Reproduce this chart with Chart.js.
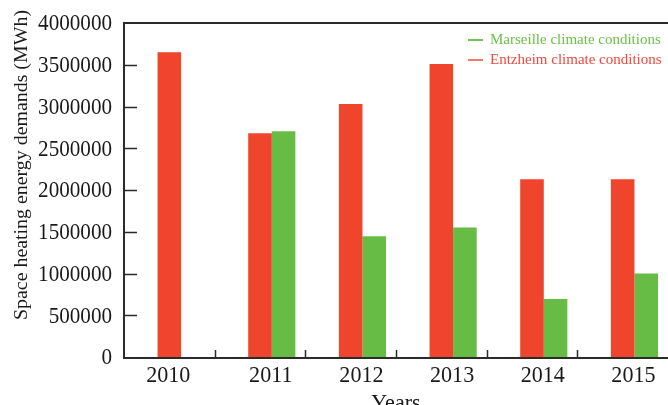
<!DOCTYPE html>
<html>
<head>
<meta charset="utf-8">
<script src="https://cdn.jsdelivr.net/npm/chart.js@4.4.1/dist/chart.umd.min.js"></script>
<style>
  html, body { margin: 0; padding: 0; background: #fff; }
  #wrap { width: 668px; height: 405px; position: relative; }
</style>
</head>
<body>
<div id="wrap"><canvas id="heatChart"></canvas></div>
<script>
const years = ['2010', '2011', '2012', '2013', '2014', '2015'];
const entzheim = [3650000, 2680000, 3030000, 3510000, 2130000, 2130000];
const marseille = [null, 2705000, 1445000, 1550000, 695000, 1000000];
const yTicks = [0, 500000, 1000000, 1500000, 2000000, 2500000, 3000000, 3500000, 4000000];

const RED = '#ee452c';
const GREEN = '#67bc45';
const AXIS = '#2b2b2b';
const TEXT = '#1a1a1a';
const SERIF = '"Liberation Serif", "DejaVu Serif", serif';

// draws text squeezed horizontally, like the condensed serif of the original
function squeezed(c, text, x, y, sx) {
    c.save();
    c.translate(x, y);
    c.scale(sx, 1);
    c.fillText(text, 0, 0);
    c.restore();
}

// frame, inner tick marks, tick labels, titles and legend
const framePlugin = {
    id: 'frame',
    afterDraw(chart) {
        const c = chart.ctx;
        const a = chart.chartArea;
        const xs = chart.scales.x;
        const ys = chart.scales.y;
        c.save();
        c.strokeStyle = AXIS;
        c.lineWidth = 2;
        c.beginPath();
        c.moveTo(a.left, a.top);
        c.lineTo(a.right + 2, a.top);
        c.moveTo(a.left, a.top - 1);
        c.lineTo(a.left, a.bottom + 1);
        c.lineTo(a.right + 2, a.bottom + 1);
        c.stroke();

        // y tick marks pointing inward
        c.lineWidth = 1.5;
        c.beginPath();
        yTicks.forEach(v => {
            if (v === 0 || v === 4000000) return;
            const y = Math.round(ys.getPixelForValue(v)) + 0.5;
            c.moveTo(a.left, y);
            c.lineTo(a.left + 13, y);
        });
        // x tick marks between categories
        for (let i = 0; i < years.length - 1; i++) {
            const x = Math.round((xs.getPixelForValue(i) + xs.getPixelForValue(i + 1)) / 2) + 0.5;
            c.moveTo(x, a.bottom);
            c.lineTo(x, a.bottom - 7);
        }
        c.stroke();

        // y tick labels
        c.fillStyle = TEXT;
        c.font = '24px ' + SERIF;
        c.textAlign = 'right';
        c.textBaseline = 'middle';
        yTicks.forEach(v => {
            squeezed(c, String(v), 112, ys.getPixelForValue(v) + 1, 0.88);
        });

        // x tick labels, centred under the bars that exist for that year
        c.font = '23px ' + SERIF;
        c.textAlign = 'center';
        c.textBaseline = 'middle';
        const metaR = chart.getDatasetMeta(1);
        const metaG = chart.getDatasetMeta(2);
        years.forEach((yr, i) => {
            const xsBars = [metaR.data[i].x];
            if (marseille[i] !== null) xsBars.push(metaG.data[i].x);
            const cx = xsBars.reduce((s, v) => s + v, 0) / xsBars.length;
            squeezed(c, yr, cx - 1, a.bottom + 19, 0.96);
        });

        // axis titles
        c.textBaseline = 'alphabetic';
        squeezed(c, 'Years', (a.left + a.right) / 2, 410, 0.96);

        c.font = '18px ' + SERIF;
        const title = 'Space heating energy demands (MWh)';
        const w = c.measureText(title).width;
        c.save();
        c.translate(27, 165);
        c.rotate(-Math.PI / 2);
        c.scale(310 / w, 1);
        c.textAlign = 'center';
        c.fillText(title, 0, 0);
        c.restore();

        // legend
        const items = [
            { text: 'Marseille climate conditions', line: '#72c452', color: '#6cc04a' },
            { text: 'Entzheim climate conditions', line: '#f27a68', color: '#f2473c' }
        ];
        c.font = '15px ' + SERIF;
        c.textBaseline = 'middle';
        c.textAlign = 'left';
        items.forEach((it, i) => {
            const y = 40 + i * 20;
            c.strokeStyle = it.line;
            c.lineWidth = 2;
            c.beginPath();
            c.moveTo(468, y);
            c.lineTo(483, y);
            c.stroke();
            c.fillStyle = it.color;
            c.fillText(it.text, 490, y);
        });
        c.restore();
    }
};

const ctx = document.getElementById('heatChart').getContext('2d');
const heatChart = new Chart(ctx, {
    type: 'bar',
    data: {
        labels: years,
        datasets: [{
            label: '',
            data: years.map(() => null),
            backgroundColor: 'rgba(0,0,0,0)'
        }, {
            label: 'Entzheim climate conditions',
            data: entzheim,
            backgroundColor: RED
        }, {
            label: 'Marseille climate conditions',
            data: marseille,
            backgroundColor: GREEN
        }]
    },
    options: {
        responsive: true,
        maintainAspectRatio: false,
        animation: false,
        datasets: {
            bar: {
                categoryPercentage: 0.78,
                barPercentage: 1
            }
        },
        layout: {
            padding: { top: 23, right: 0, left: 0, bottom: 0 }
        },
        scales: {
            x: {
                grid: { display: false, drawTicks: false },
                border: { display: false },
                ticks: { display: false },
                afterFit(scale) { scale.height = 48; }
            },
            y: {
                min: 0,
                max: 4000000,
                grid: { display: false, drawTicks: false },
                border: { display: false },
                ticks: { display: false, stepSize: 500000 },
                afterFit(scale) { scale.width = 124; }
            }
        },
        plugins: {
            legend: { display: false },
            tooltip: { enabled: false }
        }
    },
    plugins: [framePlugin]
});
</script>
</body>
</html>
